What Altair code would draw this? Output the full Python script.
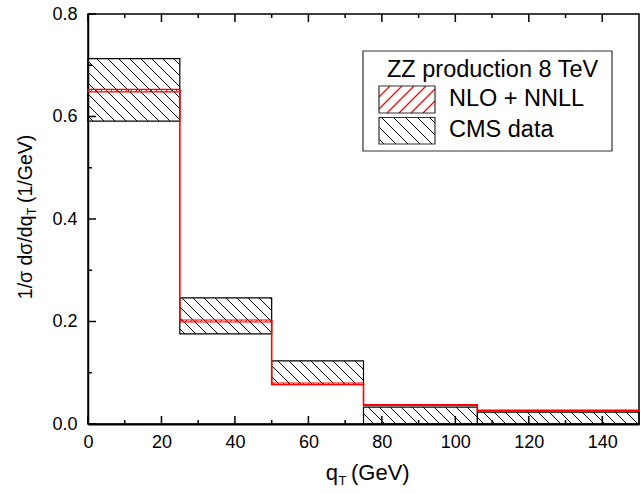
import altair as alt
import pandas as pd
import numpy as np

# ---------------- data ----------------
bin_lo = [0, 25, 50, 75, 106]
bin_hi = [25, 50, 75, 106, 150]
cms_low = [0.591, 0.176, 0.077, 0.0, 0.0]
cms_high = [0.713, 0.246, 0.123, 0.033, 0.023]
nlo_low = [0.648, 0.199, 0.077, 0.036, 0.025]
nlo_high = [0.653, 0.203, 0.080, 0.038, 0.027]

x_major = [0, 20, 40, 60, 80, 100, 120, 140]
x_minor = [10, 30, 50, 70, 90, 110, 130]
y_major = [0.0, 0.2, 0.4, 0.6, 0.8]
y_minor = [0.1, 0.3, 0.5, 0.7]

legend_title = "ZZ production 8 TeV"
legend_labels = ["NLO + NNLL", "CMS data"]

# ---------------- geometry ----------------
W, H = 551, 410
XMAX, YMAX = 150.0, 0.8
kx = W / XMAX
ky = H / YMAX
FONT = "Liberation Sans"
RED = "#ff0000"


def hatch(x0, x1, y0, y1, spacing, direction):
    """Hatch segments (in data units) clipped to a rectangle, uniform in pixel space."""
    u0, u1 = x0 * kx, x1 * kx
    v0, v1 = y0 * ky, y1 * ky
    segs = []
    if direction == "back":  # "\"  u + v = c
        kmin = int(np.floor((u0 + v0) / spacing))
        kmax = int(np.ceil((u1 + v1) / spacing))
        for k in range(kmin, kmax + 1):
            c = k * spacing
            ua = max(u0, c - v1)
            ub = min(u1, c - v0)
            if ub - ua > 0.3:
                segs.append((ua / kx, (c - ua) / ky, ub / kx, (c - ub) / ky))
    else:  # "/"  v - u = c
        kmin = int(np.floor((v0 - u1) / spacing))
        kmax = int(np.ceil((v1 - u0) / spacing))
        for k in range(kmin, kmax + 1):
            c = k * spacing
            ua = max(u0, v0 - c)
            ub = min(u1, v1 - c)
            if ub - ua > 0.3:
                segs.append((ua / kx, (ua + c) / ky, ub / kx, (ub + c) / ky))
    return segs


def px2data(px, py):
    return px / kx, (H - py) / ky


bins = pd.DataFrame({
    "lo": bin_lo, "hi": bin_hi,
    "cms_low": cms_low, "cms_high": cms_high,
    "nlo_low": nlo_low, "nlo_high": nlo_high,
})

cms_h = []
nlo_h = []
for i in range(len(bin_lo)):
    cms_h += hatch(bin_lo[i], bin_hi[i], cms_low[i], cms_high[i], 11, "back")
    nlo_h += hatch(bin_lo[i], bin_hi[i], nlo_low[i], nlo_high[i], 5, "fwd")
cms_h = pd.DataFrame(cms_h, columns=["xa", "ya", "xb", "yb"])
nlo_h = pd.DataFrame(nlo_h, columns=["xa", "ya", "xb", "yb"])

# vertical connectors of the NLO histogram between neighbouring bins
conn = pd.DataFrame({
    "x": bin_hi[:-1],
    "ya": [min(nlo_low[i], nlo_low[i + 1]) for i in range(len(bin_lo) - 1)],
    "yb": [max(nlo_high[i], nlo_high[i + 1]) for i in range(len(bin_lo) - 1)],
})

# legend swatches (pixel, relative to plot origin) -> data
sw_nlo = (291, 347, 72, 99)
sw_cms = (291, 347, 103.5, 130)
sw_rows = []
sw_h_nlo, sw_h_cms = [], []
for (l, r, t, b), lst, d in [(sw_nlo, sw_h_nlo, "fwd"), (sw_cms, sw_h_cms, "back")]:
    xa, ya = px2data(l, b)
    xb, yb = px2data(r, t)
    sw_rows.append((xa, xb, ya, yb))
    lst += hatch(xa, xb, ya, yb, 12, d)
sw_rects = pd.DataFrame(sw_rows, columns=["lo", "hi", "y0", "y1"])
sw_h_nlo = pd.DataFrame(sw_h_nlo, columns=["xa", "ya", "xb", "yb"])
sw_h_cms = pd.DataFrame(sw_h_cms, columns=["xa", "ya", "xb", "yb"])

# ---------------- scales / axes ----------------
xs = alt.Scale(domain=[0, XMAX], nice=False, zero=False)
ys = alt.Scale(domain=[0, YMAX], nice=False, zero=False)
xax = alt.Axis(values=x_major, ticks=False, grid=False, title=None, labelFont=FONT,
               labelFontSize=18, labelColor="black", labelPadding=9,
               domainColor="black", domainWidth=2, labelFlush=False)
yax = alt.Axis(values=y_major, ticks=False, grid=False, title=None, labelFont=FONT,
               labelFontSize=18, labelColor="black", labelPadding=11, format=".1f",
               domainColor="black", domainWidth=1.5, labelFlush=False)


def X(f):
    return alt.X(f, type="quantitative", scale=xs, axis=xax)


def Y(f):
    return alt.Y(f, type="quantitative", scale=ys, axis=yax)


one = pd.DataFrame({"a": [0]})

layers = []

# CMS hatch + boxes
layers.append(alt.Chart(cms_h).mark_rule(color="black", strokeWidth=1).encode(
    x=X("xa"), x2="xb", y=Y("ya"), y2="yb"))
layers.append(alt.Chart(bins).mark_rect(fill=None, stroke="black", strokeWidth=1.2).encode(
    x=X("lo"), x2="hi", y=Y("cms_low"), y2="cms_high"))
# NLO band
layers.append(alt.Chart(nlo_h).mark_rule(color=RED, strokeWidth=1).encode(
    x=X("xa"), x2="xb", y=Y("ya"), y2="yb"))
layers.append(alt.Chart(bins).mark_rect(fill=None, stroke=RED, strokeWidth=1.1).encode(
    x=X("lo"), x2="hi", y=Y("nlo_low"), y2="nlo_high"))
layers.append(alt.Chart(conn).mark_rule(color=RED, strokeWidth=1.6).encode(
    x=X("x"), y=Y("ya"), y2="yb"))

# inward ticks
for vals, ln in [(x_major, 8), (x_minor, 4)]:
    d = pd.DataFrame({"t": vals})
    layers.append(alt.Chart(d).mark_rule(color="black", strokeWidth=1.5).encode(
        x=X("t"), y=alt.value(H), y2=alt.value(H - ln)))
    layers.append(alt.Chart(d).mark_rule(color="black", strokeWidth=1.5).encode(
        x=X("t"), y=alt.value(0), y2=alt.value(ln)))
for vals, ln in [(y_major, 8), (y_minor, 4)]:
    d = pd.DataFrame({"t": vals})
    layers.append(alt.Chart(d).mark_rule(color="black", strokeWidth=1.5).encode(
        y=Y("t"), x=alt.value(0), x2=alt.value(ln)))

# legend
layers.append(alt.Chart(one).mark_rect(fill="white", stroke="#333333", strokeWidth=1.2).encode(
    x=alt.value(275), x2=alt.value(524), y=alt.value(37), y2=alt.value(137)))
layers.append(alt.Chart(sw_h_nlo).mark_rule(color=RED, strokeWidth=1.2).encode(
    x=X("xa"), x2="xb", y=Y("ya"), y2="yb"))
layers.append(alt.Chart(sw_h_cms).mark_rule(color="black", strokeWidth=1).encode(
    x=X("xa"), x2="xb", y=Y("ya"), y2="yb"))
layers.append(alt.Chart(sw_rects).mark_rect(fill=None, stroke="#333333", strokeWidth=1.2).encode(
    x=X("lo"), x2="hi", y=Y("y0"), y2="y1"))


def txt(s, x, y, size, align="left", angle=None):
    kw = dict(text=s, font=FONT, fontSize=size, align=align, baseline="alphabetic", color="black")
    if angle is not None:
        kw["angle"] = angle
    return alt.Chart(one).mark_text(**kw).encode(x=alt.value(x), y=alt.value(y))


layers.append(txt(legend_title, 299, 63, 23.5))
layers.append(txt(legend_labels[0], 361, 92, 23.5))
layers.append(txt(legend_labels[1], 361, 123, 23.5))

# x axis title  q_T (GeV)   (pieces anchored on the subscript)
layers.append(txt("q", 250, 466, 22, align="right"))
layers.append(txt("T", 250.5, 471, 13))
layers.append(txt("(GeV)", 263, 466, 22))
# y axis title  1/σ dσ/dq_T (1/GeV)
layers.append(txt("1/σ dσ/dq", -56, 201.5, 19.5, align="right", angle=270))
layers.append(txt("T", -52, 201, 12, angle=270))
layers.append(txt("(1/GeV)", -56, 189, 19.5, angle=270))

chart = alt.layer(*layers).properties(
    width=W, height=H,
    autosize=alt.AutoSizeParams(type="none"),
    padding={"left": 88, "top": 14, "right": 1, "bottom": 70},
    background="white",
).configure_view(stroke="black", strokeWidth=1.5)

chart.save("out.html", embed_options={"renderer": "svg", "actions": False})
